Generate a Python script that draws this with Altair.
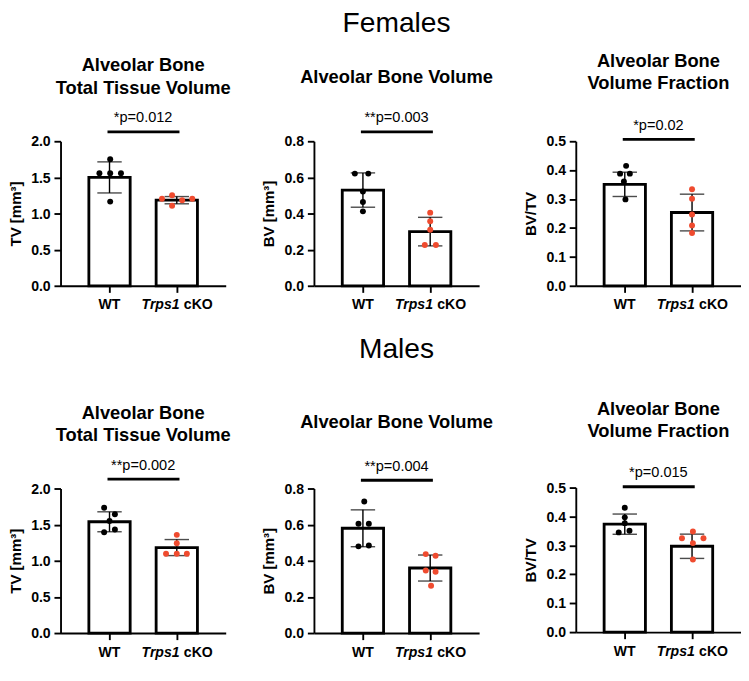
import altair as alt
import pandas as pd

FONT = "Liberation Sans"
GROUPS = ["WT", "Trps1 cKO"]
COLORS = ["#000000", "#EF4B2F"]

# ---------------- Females ----------------
F_TV_MEAN = [1.50, 1.185]
F_TV_SD = [0.215, 0.05]
F_TV_WT = [1.752, 1.557, 1.557, 1.557, 1.165]
F_TV_WT_J = [0.01, -0.15, 0.01, 0.17, 0.01]
F_TV_KO = [1.204, 1.252, 1.109, 1.183, 1.204]
F_TV_KO_J = [-0.22, -0.07, -0.07, 0.08, 0.23]

F_BV_MEAN = [0.53, 0.30]
F_BV_SD = [0.095, 0.079]
F_BV_WT = [0.621, 0.621, 0.522, 0.464, 0.412]
F_BV_WT_J = [-0.12, 0.08, 0.0, 0.0, 0.0]
F_BV_KO = [0.405, 0.357, 0.310, 0.226, 0.226]
F_BV_KO_J = [0.0, 0.0, 0.0, -0.08, 0.085]

F_FR_MEAN = [0.351, 0.2535]
F_FR_SD = [0.042, 0.0635]
F_FR_WT = [0.415, 0.388, 0.388, 0.361, 0.299]
F_FR_WT_J = [0.02, -0.07, 0.075, -0.013, 0.01]
F_FR_KO = [0.334, 0.301, 0.247, 0.209, 0.183]
F_FR_KO_J = [0.0, 0.0, 0.0, 0.0, 0.0]

# ---------------- Males ----------------
M_TV_MEAN = [1.54, 1.183]
M_TV_SD = [0.138, 0.111]
M_TV_WT = [1.735, 1.643, 1.552, 1.395, 1.434]
M_TV_WT_J = [-0.08, 0.08, 0.0, -0.08, 0.08]
M_TV_KO = [1.359, 1.242, 1.098, 1.098, 1.098]
M_TV_KO_J = [0.0, 0.0, -0.16, 0.0, 0.15]

M_BV_MEAN = [0.58, 0.36]
M_BV_SD = [0.102, 0.072]
M_BV_WT = [0.728, 0.605, 0.605, 0.480, 0.485]
M_BV_WT_J = [0.02, -0.066, 0.088, -0.066, 0.088]
M_BV_KO = [0.437, 0.428, 0.346, 0.339, 0.262]
M_BV_KO_J = [-0.066, 0.08, -0.066, 0.08, 0.013]

M_FR_MEAN = [0.3735, 0.297]
M_FR_SD = [0.035, 0.042]
M_FR_WT = [0.430, 0.397, 0.377, 0.345, 0.351]
M_FR_WT_J = [0.0, 0.0, 0.0, -0.09, 0.07]
M_FR_KO = [0.348, 0.325, 0.325, 0.308, 0.251]
M_FR_KO_J = [0.013, -0.15, 0.17, 0.013, 0.013]

SIG_X = [-0.03, 1.04]

W, H = 176, 154
XDOM = [-0.658, 1.658]

BOLD_TITLE = dict(font=FONT, fontSize=19.5, fontWeight="bold", lineHeight=24,
                  frame="group", anchor="middle", color="black")


def panel(title, ytitle, ymax, yvals, mean, sd, wt, wtj, ko, koj, ptext, sig_y):
    stats = pd.DataFrame({
        "x": [0, 1],
        "g": GROUPS,
        "mean": mean,
        "lo": [m - s for m, s in zip(mean, sd)],
        "hi": [m + s for m, s in zip(mean, sd)],
    })
    pts = pd.DataFrame({
        "x": [0 + j for j in wtj] + [1 + j for j in koj],
        "v": wt + ko,
        "g": [GROUPS[0]] * len(wt) + [GROUPS[1]] * len(ko),
    })
    sig = pd.DataFrame({"x": [SIG_X[0]], "x2": [SIG_X[1]], "y": [sig_y], "t": [ptext], "xm": [0.5]})
    labs = pd.DataFrame({"x": [0, 1, 1], "t": ["WT", "Trps1", "cKO"], "y": [0, 0, 0]})

    xs = alt.Scale(domain=XDOM, nice=False, zero=False)
    ys = alt.Scale(domain=[0, ymax], nice=False)
    xax = alt.Axis(values=[0, 1], labels=False, title=None, tickSize=7, tickWidth=2,
                   domainWidth=2, domainColor="black", tickColor="black", grid=False)
    yax = alt.Axis(values=yvals, format=".1f", title=ytitle, tickSize=7, tickWidth=2,
                   domainWidth=2, domainColor="black", tickColor="black", grid=False,
                   labelFont=FONT, labelFontSize=15, labelFontWeight="bold", labelColor="black",
                   labelOverlap=False, labelFlush=False,
                   labelPadding=4, titleFont=FONT, titleFontSize=16, titleFontWeight="bold",
                   titleColor="black", titlePadding=8)

    def X(f):
        return alt.X(f, scale=xs, axis=xax)

    def Y(f):
        return alt.Y(f, scale=ys, axis=yax)

    base = alt.Chart(stats)
    bars = base.mark_bar(width=44, fill="white", stroke="black", strokeWidth=3).encode(
        x=X("x:Q"), y=Y("mean:Q"))
    err = base.mark_rule(color="black", strokeWidth=1.5).encode(
        x=X("x:Q"), y=Y("lo:Q"), y2="hi:Q")
    cap_hi = base.mark_tick(orient="horizontal", size=26, thickness=1.5, color="black").encode(
        x=X("x:Q"), y=Y("hi:Q"))
    cap_lo = base.mark_tick(orient="horizontal", size=26, thickness=1.5, color="black").encode(
        x=X("x:Q"), y=Y("lo:Q"))
    dots = alt.Chart(pts).mark_circle(size=40, opacity=1).encode(
        x=X("x:Q"), y=Y("v:Q"),
        color=alt.Color("g:N", scale=alt.Scale(domain=GROUPS, range=COLORS), legend=None),
    )
    sigr = alt.Chart(sig).mark_rule(color="black", strokeWidth=3).encode(
        x=X("x:Q"), x2="x2:Q", y=Y("y:Q"))
    sigt = alt.Chart(sig).mark_text(font=FONT, fontSize=15.5, baseline="alphabetic", dy=-10,
                                    color="black").encode(
        x=X("xm:Q"), y=Y("y:Q"), text="t:N")
    txt = dict(font=FONT, fontSize=15, fontWeight="bold", baseline="middle", dy=20, color="black")
    lab_wt = alt.Chart(labs.iloc[[0]]).mark_text(**txt).encode(
        x=X("x:Q"), y=Y("y:Q"), text="t:N")
    lab_tr = alt.Chart(labs.iloc[[1]]).mark_text(fontStyle="italic", align="right", dx=3, **txt).encode(
        x=X("x:Q"), y=Y("y:Q"), text="t:N")
    lab_ko = alt.Chart(labs.iloc[[2]]).mark_text(align="left", dx=7.5, **txt).encode(
        x=X("x:Q"), y=Y("y:Q"), text="t:N")

    return alt.layer(bars, err, cap_hi, cap_lo, dots, sigr, sigt, lab_wt, lab_tr, lab_ko).properties(
        width=W, height=H, title=title)


def bold_title(lines, offset):
    return alt.TitleParams(text=lines, offset=offset, **BOLD_TITLE)


def row_title(name, sub, pad, offset):
    return alt.TitleParams(
        text=name, subtitle=sub, font=FONT, fontSize=30, fontWeight="normal", color="black",
        subtitleFont=FONT, subtitleFontSize=19.5, subtitleFontWeight="bold",
        subtitleColor="black", subtitlePadding=pad, frame="group", anchor="middle",
        offset=offset)


p1 = panel(bold_title(["Alveolar Bone", "Total Tissue Volume"], 14), "TV [mm³]", 2.0,
           [0, 0.5, 1.0, 1.5, 2.0],
           F_TV_MEAN, F_TV_SD, F_TV_WT, F_TV_WT_J, F_TV_KO, F_TV_KO_J, "*p=0.012", 2.13)
p2 = panel(row_title("Females", "Alveolar Bone Volume", 33, 27), "BV [mm³]", 0.8,
           [0, 0.2, 0.4, 0.6, 0.8],
           F_BV_MEAN, F_BV_SD, F_BV_WT, F_BV_WT_J, F_BV_KO, F_BV_KO_J, "**p=0.003", 0.852)
p3 = panel(bold_title(["Alveolar Bone", "Volume Fraction"], 27), "BV/TV", 0.5,
           [0, 0.1, 0.2, 0.3, 0.4, 0.5],
           F_FR_MEAN, F_FR_SD, F_FR_WT, F_FR_WT_J, F_FR_KO, F_FR_KO_J, "*p=0.02", 0.5065)

p4 = panel(bold_title(["Alveolar Bone", "Total Tissue Volume"], 14), "TV [mm³]", 2.0,
           [0, 0.5, 1.0, 1.5, 2.0],
           M_TV_MEAN, M_TV_SD, M_TV_WT, M_TV_WT_J, M_TV_KO, M_TV_KO_J, "**p=0.002", 2.13)
p5 = panel(row_title("Males", "Alveolar Bone Volume", 54, 30), "BV [mm³]", 0.8,
           [0, 0.2, 0.4, 0.6, 0.8],
           M_BV_MEAN, M_BV_SD, M_BV_WT, M_BV_WT_J, M_BV_KO, M_BV_KO_J, "**p=0.004", 0.846)
p6 = panel(bold_title(["Alveolar Bone", "Volume Fraction"], 26), "BV/TV", 0.5,
           [0, 0.1, 0.2, 0.3, 0.4, 0.5],
           M_FR_MEAN, M_FR_SD, M_FR_WT, M_FR_WT_J, M_FR_KO, M_FR_KO_J, "*p=0.015", 0.503)

col1 = alt.vconcat(p1, p4, spacing=97)
col2 = alt.vconcat(p2, p5, spacing=24)
col3 = alt.vconcat(p3, p6, spacing=93)

chart = alt.hconcat(col1, col2, col3, spacing=32).properties(
    padding={"left": 0, "top": -21, "right": 0, "bottom": 0},
    background="white",
).configure_view(stroke=None).configure_axis(labelOverlap=False)

chart.save("out.html", embed_options={"renderer": "svg", "actions": False})
